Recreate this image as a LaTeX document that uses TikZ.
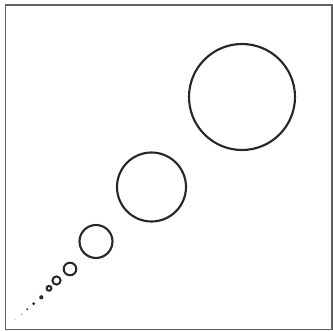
\documentclass[tikz,border=0pt]{standalone}
\usepackage{xcolor}
\usepackage{tikz}
\definecolor{clrRing}{RGB}{40,40,40}
\definecolor{clrFrame}{RGB}{95,95,95}
\tikzset{
  frame/.style={draw=clrFrame,line width=1.3pt},
  ring/.style={draw=clrRing,line width=1.6pt},
  ringS/.style={draw=clrRing,line width=1.5pt},
  speck/.style={fill=clrRing,draw=none}
}
\begin{document}
\begin{tikzpicture}[x=0.75pt,y=-0.75pt]
  \useasboundingbox (0,0) rectangle (333,331);
  \fill[white] (0,0) rectangle (333,331);
  \draw[frame] (5.5,5) rectangle (332,329.5);
  % open rings, largest first
  \foreach \cx/\cy/\r in {242/97/53, 151.5/187/34.5, 96/241.5/16.5}
    \draw[ring] (\cx,\cy) circle (\r);
  \foreach \cx/\cy/\r in {70/269/6.3, 56.5/280.5/4.1, 49/288.3/2.4}
    \draw[ringS] (\cx,\cy) circle (\r);
  % filled specks fading out
  \foreach \cx/\cy/\r/\o in {41.3/297.3/2.1/1, 33.7/303.7/1.6/1, 27.3/309.3/1.1/0.85,
                             21.7/314.3/0.8/0.5, 15.5/319.5/0.7/0.25}
    \fill[speck,opacity=\o] (\cx,\cy) circle (\r);
\end{tikzpicture}
\end{document}
